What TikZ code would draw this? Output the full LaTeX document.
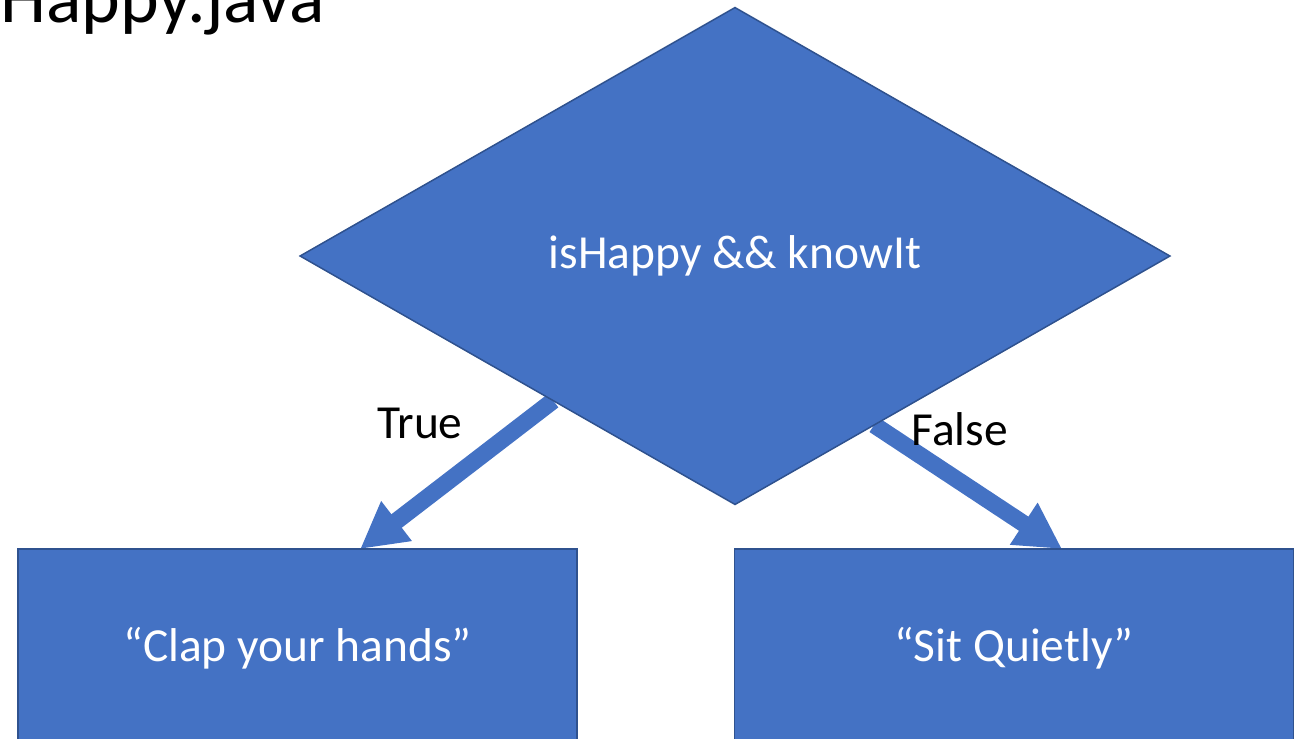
\documentclass[tikz,border=0pt]{standalone}
\usepackage{fontspec}
\setmainfont{Carlito}
\usetikzlibrary{shapes.geometric,arrows.meta,calc}
\definecolor{slideblue}{HTML}{4472C4}
\definecolor{slideedge}{HTML}{2F528F}
\pgfdeclarelayer{background}
\pgfsetlayers{background,main}

\begin{document}
\begin{tikzpicture}[x=0.02cm, y=-0.02cm,
  decision/.style={diamond, fill=slideblue, draw=slideedge, line width=0.85pt, text=white,
    minimum width=17.4cm, minimum height=9.94cm, inner sep=0pt, outer sep=0pt,
    font=\fontsize{27}{32}\selectfont},
  action/.style={rectangle, fill=slideblue, draw=slideedge, line width=0.85pt, text=white,
    minimum width=11.18cm, minimum height=3.96cm, inner sep=0pt, outer sep=0pt,
    font=\fontsize{27}{32}\selectfont},
  flow/.style={draw=slideblue, line width=0.34cm, -{Triangle[length=0.92cm, width=0.94cm]}},
  branch/.style={text=black, inner sep=0.1cm, font=\fontsize{27}{32}\selectfont}]
\useasboundingbox (0,0) rectangle (1297,738);
\clip (0,0) rectangle (1297,738);
\node [anchor=base west, inner sep=0pt, font=\fontsize{42}{50}\selectfont] (file) at (0,22) {Happy.java};
\node [decision] (cond) at (735,256) {isHappy \&\& knowIt};
\node [action] (clap) at (297.5,648) {“Clap your hands”};
\node [action] (sit) at (1014,648) {“Sit Quietly”};
\begin{pgfonlayer}{background}
  \draw [flow] ($(cond.south)!0.418!(cond.west)$) -- ($(clap.north west)!0.612!(clap.north east)$)
    node [branch, pos=0.384, above left=0.24cm, xshift=0.18cm, yshift=-0.14cm] {True};
  \draw [flow] ($(cond.south)!0.32!(cond.east)$) -- ($(sit.north west)!0.586!(sit.north east)$)
    node [branch, pos=0.17, anchor=south west, xshift=-0.16cm, yshift=-0.26cm] {False};
\end{pgfonlayer}
\end{tikzpicture}
\end{document}
